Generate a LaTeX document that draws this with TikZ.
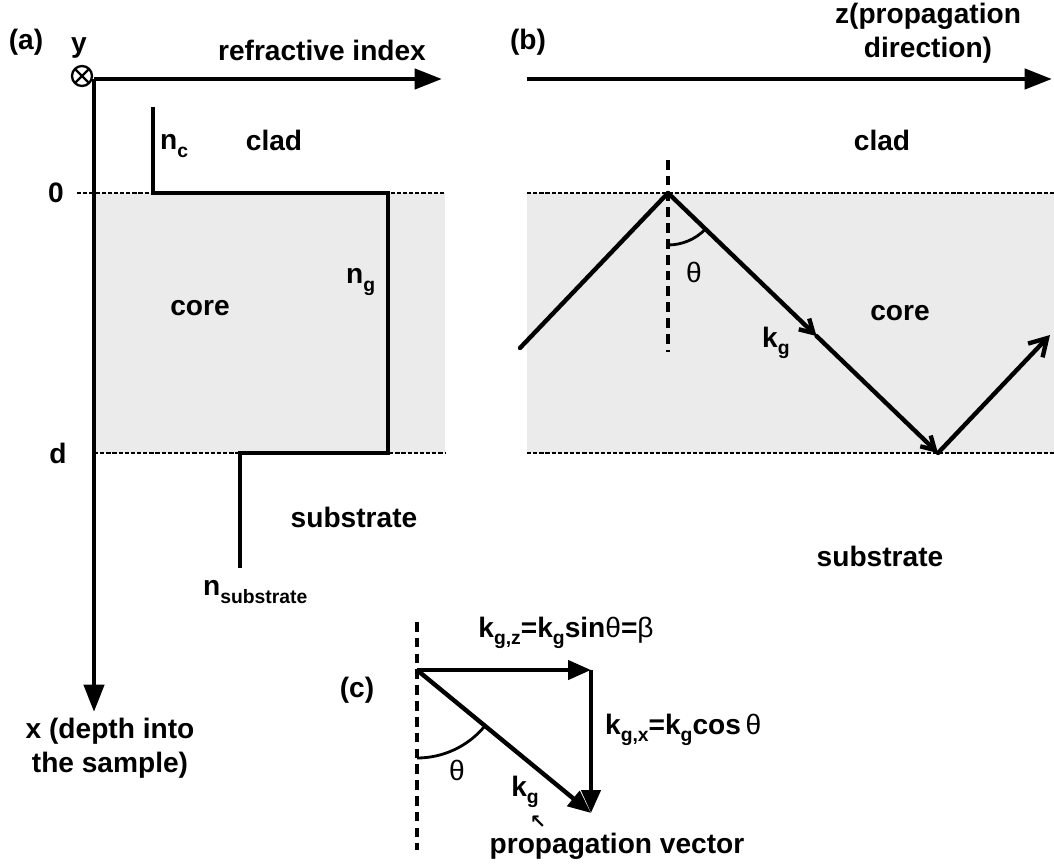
\documentclass[tikz,border=0pt]{standalone}
\usepackage{fontspec}
\setmainfont{Liberation Sans}
\newfontfamily\symfont{DejaVu Sans}
\usetikzlibrary{arrows.meta,calc}
\newcommand\sbs[1]{\raisebox{-0.5ex}{\fontsize{11}{11}\selectfont #1}}
\newcommand\thn{{\mdseries θ}}
\begin{document}
\begin{tikzpicture}[x=0.02cm,y=-0.02cm,
    font=\fontsize{16}{19.5}\selectfont\bfseries,
    axis/.style={line width=2.7pt,-{Triangle[length=5.5mm,width=4mm]}},
    profile/.style={line width=2.7pt},
    ray/.style={line width=2.5pt,line cap=round},
    vec/.style={line width=2.5pt,-{Triangle[length=4.6mm,width=3.8mm]}},
    boundary/.style={line width=1.6pt,dash pattern=on 2.4pt off 1.1pt},
    normal/.style={line width=1.9pt,dash pattern=on 5.5pt off 3.5pt},
    lbl/.style={inner sep=1pt}]
\useasboundingbox (0,0) rectangle (1054,864);
% core layers
\fill[black!8] (94,193) rectangle (445,453);
\fill[black!8] (527,193) rectangle (1054,453);
\draw[boundary] (77,193) -- (445,193);
\draw[boundary] (94,453) -- (445,453);
\draw[boundary] (527,193) -- (1054,193);
\draw[boundary] (527,453) -- (1054,453);

% (a) index profile
\coordinate (O) at (94,79);
\coordinate (ri) at (442,79);
\coordinate (xd) at (94,712);
\draw[axis] (O) -- (ri);
\draw[axis] (O) -- (xd);
\coordinate (ot) at (82,76);
\draw[line width=1.3pt] (ot) circle (10);
\draw[line width=1.3pt] ($(ot)+(-7,-7)$) -- ($(ot)+(7,7)$)
    ($(ot)+(-7,7)$) -- ($(ot)+(7,-7)$);
\draw[profile] (153,107) -- (153,193) -- (388,193) -- (388,453)
    -- (240,453) -- (240,568);
\node[lbl] (la) at (26,42) {(a)};
\node[lbl] (ly) at (79,48) {y};
\node[lbl] (lri) at (322,50) {refractive index};
\node[lbl,anchor=west] (lnc) at (158,146) {n\sbs{c}};
\node[lbl] (lclada) at (274,140) {clad};
\node[lbl] (l0) at (56,193) {0};
\node[lbl] (ld) at (58,453) {d};
\node[lbl] (lcorea) at (200,308) {core};
\node[lbl,anchor=west] (lng) at (344,282) {n\sbs{g}};
\node[lbl] (lsuba) at (354,517) {substrate};
\node[lbl,anchor=west] (lns) at (201,592) {n\sbs{substrate}};
\node[lbl,align=center] (lx) at (110,748) {x (depth into\\the sample)};

% (b) ray picture
\coordinate (zs) at (527,79);
\coordinate (ze) at (1052,79);
\draw[axis] (zs) -- (ze);
\node[lbl] (lb) at (528,42) {(b)};
\node[lbl,align=center] (lz) at (928,33) {z(propagation\\direction)};
\coordinate (A) at (520,348);
\coordinate (B) at (668,193);
\coordinate (C) at (938,453);
\coordinate (D) at (1050,335);
\coordinate (M) at ($(B)!0.55!(C)$);
\draw[normal] (668,160) -- (668,352);
\draw[ray] (A) -- (B);
\draw[ray,-{Straight Barb[length=2.6mm,width=3mm]}] (B) -- (M);
\draw[ray,-{Straight Barb[length=2.6mm,width=3mm]}] (M) -- (C);
\draw[ray,-{Straight Barb[length=3.4mm,width=4mm]}] (C) -- (D);
\draw[line width=1.6pt] ($(B)+(0,52)$) arc[start angle=90,end angle=44,radius=52];
\node[lbl] (lthb) at (694,272) {\thn};
\node[lbl,anchor=west] (lkgb) at (760,343) {k\sbs{g}};
\node[lbl] (lcladb) at (882,140) {clad};
\node[lbl] (lcoreb) at (900,313) {core};
\node[lbl] (lsubb) at (880,556) {substrate};

% (c) propagation vector
\node[lbl] (lc) at (357,690) {(c)};
\coordinate (P0) at (417,670);
\coordinate (P1) at (591,670);
\coordinate (P2) at (591,813);
\draw[normal] (417,622) -- (417,850);
\draw[vec] (P0) -- (P1);
\draw[vec] (P1) -- (P2);
\draw[vec] (P0) -- (P2);
\draw[line width=1.6pt] ($(P0)+(0,88)$) arc[start angle=90,end angle=40,radius=88];
\node[lbl] (lthc) at (457,770) {\thn};
\node[lbl] (lkgc) at (525,792) {k\sbs{g}};
\node[lbl] (larr) at (538,822) {\symfont\fontsize{11}{11}\selectfont ↖};
\node[lbl] (lpv) at (617,846) {propagation vector};
\node[lbl] (lkz) at (566,633) {k\sbs{g,z}=k\sbs{g}sin\thn=\mdseries β};
\node[lbl,anchor=west] (lkx) at (603,730) {k\sbs{g,x}=k\sbs{g}cos\,\thn};
\end{tikzpicture}
\end{document}
